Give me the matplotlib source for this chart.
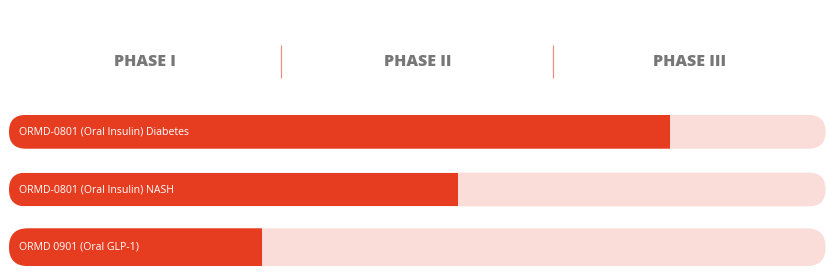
import matplotlib
matplotlib.use("Agg")
import matplotlib.pyplot as plt
from matplotlib.patches import FancyBboxPatch, Rectangle

# ---- data ----
phases = ["PHASE I", "PHASE II", "PHASE III"]
programs = ["ORMD-0801 (Oral Insulin) Diabetes",
            "ORMD-0801 (Oral Insulin) NASH",
            "ORMD 0901 (Oral GLP-1)"]
progress = [2.43, 1.65, 0.93]   # in phase units (0..3)

# ---- style ----
RED = "#E63D20"
TRACK = "#FADDD9"
DIVIDER = "#EE8E80"
GRAY = "#777777"

W, H, DPI = 830, 274, 100
fig = plt.figure(figsize=(W / DPI, H / DPI), dpi=DPI)
ax = fig.add_axes([0, 0, 1, 1])
ax.set_axis_off()

px_per_x = 272.2
px_per_y = 57.7
x0_px = 9.0
row0_px = 131.8
ax.set_xlim(-x0_px / px_per_x, (W - x0_px) / px_per_x)
ax.set_ylim((H - row0_px) / px_per_y, -row0_px / px_per_y)

aspect = px_per_x / px_per_y
heights = [0.585, 0.585, 0.655]
n_phases = len(phases)

for i, (name, val) in enumerate(zip(programs, progress)):
    h = heights[i]
    r = h / aspect / 2
    track = FancyBboxPatch((0, i - h / 2), n_phases, h,
                           boxstyle=f"round,pad=0,rounding_size={r}",
                           mutation_aspect=aspect,
                           facecolor=TRACK, edgecolor="none", zorder=1)
    ax.add_patch(track)
    fill = Rectangle((0, i - h / 2), val, h, facecolor=RED,
                     edgecolor="none", zorder=2)
    ax.add_patch(fill)
    fill.set_clip_path(track)
    ax.text(10 / px_per_x, i, name, color="white", fontsize=7.6,
            family="Open Sans", va="center", ha="left", zorder=3)

head_y = -70 / px_per_y
for j, ph in enumerate(phases):
    ax.text(j + 0.5, head_y, ph, color=GRAY, fontsize=11.5,
            family="Open Sans", fontweight="heavy",
            ha="center", va="center")
for j in range(1, n_phases):
    ax.plot([j, j], [-86.8 / px_per_y, -53.8 / px_per_y],
            color=DIVIDER, lw=0.9, solid_capstyle="butt")

fig.savefig("out.png", dpi=DPI)
